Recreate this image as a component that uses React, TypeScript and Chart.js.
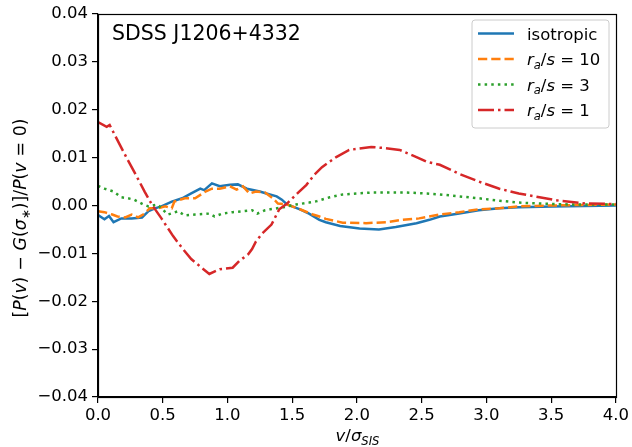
import React, { useEffect, useRef } from "react";
import { Chart, registerables } from "chart.js";

Chart.register(...registerables);

const isoV = [0, 0.05, 0.085, 0.12, 0.18, 0.26, 0.34, 0.39, 0.44, 0.49, 0.57, 0.65, 0.72, 0.79, 0.82, 0.88, 0.94, 1.02, 1.08, 1.15, 1.25, 1.3, 1.38, 1.42, 1.46, 1.56, 1.63, 1.71, 1.76, 1.87, 2.02, 2.17, 2.3, 2.46, 2.56, 2.64, 2.79, 2.94, 3.1, 3.25, 3.51, 4.0];
const isoY = [-0.002, -0.0029, -0.0022, -0.0035, -0.0027, -0.0027, -0.0025, -0.0012, -0.0006, -0.0002, 0.0008, 0.0015, 0.0025, 0.0035, 0.0032, 0.0046, 0.004, 0.0043, 0.0044, 0.0035, 0.0029, 0.0025, 0.0019, 0.0012, 0.0002, -0.0008, -0.0017, -0.003, -0.0035, -0.0043, -0.0048, -0.005, -0.0045, -0.0037, -0.003, -0.0023, -0.0017, -0.001, -0.0006, -0.0004, -0.0002, 0.0];

const ra10V = [0, 0.05, 0.11, 0.15, 0.21, 0.26, 0.31, 0.36, 0.4, 0.46, 0.52, 0.57, 0.59, 0.67, 0.75, 0.83, 0.88, 0.94, 1.02, 1.07, 1.12, 1.17, 1.22, 1.29, 1.35, 1.39, 1.46, 1.56, 1.66, 1.71, 1.76, 1.89, 2.07, 2.23, 2.35, 2.48, 2.64, 2.79, 2.94, 3.1, 3.25, 3.51, 4.0];
const ra10Y = [-0.0012, -0.0014, -0.0019, -0.0023, -0.0025, -0.0019, -0.0025, -0.0017, -0.0006, -0.0006, -0.0002, -0.0006, 0.0008, 0.0015, 0.0015, 0.0029, 0.0035, 0.0035, 0.004, 0.0033, 0.004, 0.0025, 0.0029, 0.0027, 0.0015, 0.0004, 0.0002, -0.0008, -0.0019, -0.0023, -0.0028, -0.0036, -0.0037, -0.0035, -0.003, -0.0027, -0.0019, -0.0014, -0.0008, -0.0006, -0.0002, 0.0, 0.0002];

const ra3V = [0, 0.05, 0.12, 0.18, 0.23, 0.28, 0.35, 0.39, 0.46, 0.54, 0.62, 0.67, 0.75, 0.86, 0.9, 0.96, 1.04, 1.12, 1.19, 1.23, 1.29, 1.33, 1.43, 1.53, 1.63, 1.69, 1.79, 1.89, 2.0, 2.12, 2.25, 2.38, 2.54, 2.64, 2.79, 2.94, 3.1, 3.25, 3.41, 3.64, 4.0];
const ra3Y = [0.0041, 0.0035, 0.0029, 0.0017, 0.0015, 0.0012, 0.0002, -0.0002, 0.0002, -0.0019, -0.0012, -0.0021, -0.0019, -0.0017, -0.0023, -0.0017, -0.0014, -0.0012, -0.001, -0.0017, -0.001, -0.0008, -0.0004, 0.0002, 0.0006, 0.0009, 0.0017, 0.0023, 0.0025, 0.0027, 0.0027, 0.0027, 0.0025, 0.0023, 0.0019, 0.0015, 0.001, 0.0006, 0.0004, 0.0002, 0.0002];

const ra1V = [0, 0.067, 0.09, 0.17, 0.23, 0.3, 0.36, 0.42, 0.49, 0.58, 0.65, 0.72, 0.8, 0.86, 0.94, 1.04, 1.09, 1.16, 1.19, 1.22, 1.27, 1.34, 1.4, 1.46, 1.54, 1.61, 1.67, 1.73, 1.84, 1.94, 2.11, 2.21, 2.33, 2.46, 2.54, 2.64, 2.79, 2.94, 3.1, 3.25, 3.41, 3.56, 3.77, 4.0];
const ra1Y = [0.0174, 0.0164, 0.0168, 0.0126, 0.0095, 0.006, 0.0029, 0.0, -0.0027, -0.0064, -0.0089, -0.0112, -0.013, -0.0143, -0.0133, -0.013, -0.0116, -0.0102, -0.0091, -0.0075, -0.0058, -0.004, -0.0008, 0.0004, 0.0025, 0.0043, 0.0064, 0.008, 0.0101, 0.0116, 0.0122, 0.012, 0.0116, 0.0101, 0.0091, 0.0085, 0.0066, 0.005, 0.0035, 0.0025, 0.0017, 0.001, 0.0004, 0.0003];

const seriesNames = ["isotropic", "r_a/s = 10", "r_a/s = 3", "r_a/s = 1"];
const seriesColors = ["#1f77b4", "#ff7f0e", "#2ca02c", "#d62728"];
const xTicks = [0, 0.5, 1, 1.5, 2, 2.5, 3, 3.5, 4];
const yTicks = [-0.04, -0.03, -0.02, -0.01, 0, 0.01, 0.02, 0.03, 0.04];
const titleText = "SDSS J1206+4332";

const LW = 2.5;
const dashes: number[][] = [
  [],
  [3.7 * LW, 1.6 * LW],
  [1 * LW, 1.65 * LW],
  [6.4 * LW, 1.6 * LW, 1 * LW, 1.6 * LW],
];

const FONT = "'DejaVu Sans'";
const FS = 16.5;

type Seg = { t: string; i?: boolean; sub?: boolean; gap?: number };

function segWidth(ctx: CanvasRenderingContext2D, s: Seg, size: number) {
  if (s.gap !== undefined) return s.gap * size;
  const fs = s.sub ? size * 0.7 : size;
  ctx.font = `${s.i ? "oblique " : ""}${fs}px ${FONT}`;
  return ctx.measureText(s.t).width;
}

function richWidth(ctx: CanvasRenderingContext2D, segs: Seg[], size: number) {
  let w = 0;
  for (const s of segs) w += segWidth(ctx, s, size);
  return w;
}

function drawRich(ctx: CanvasRenderingContext2D, segs: Seg[], x: number, y: number, size: number) {
  let cx = x;
  ctx.textAlign = "left";
  ctx.textBaseline = "alphabetic";
  for (const s of segs) {
    const w = segWidth(ctx, s, size);
    if (s.gap === undefined) {
      ctx.fillText(s.t, cx, y + (s.sub ? size * 0.22 : 0));
    }
    cx += w;
  }
}

function labelSegs(name: string): Seg[] {
  if (!name.startsWith("r_a")) return [{ t: name }];
  const rest = name.slice(5);
  return [{ t: "r", i: true }, { t: "a", i: true, sub: true }, { t: "/" }, { t: "s", i: true }, { t: rest }];
}

const ylabelSegs: Seg[] = [
  { t: "[" }, { t: "P", i: true }, { t: "(" }, { t: "v", i: true }, { t: ")" }, { gap: 0.34 }, { t: "−" }, { gap: 0.34 },
  { t: "G", i: true }, { t: "(" }, { t: "σ", i: true }, { t: "∗", sub: true }, { t: ")]/" },
  { t: "P", i: true }, { t: "(" }, { t: "v", i: true }, { gap: 0.34 }, { t: "=" }, { gap: 0.34 }, { t: "0)" },
];
const xlabelSegs: Seg[] = [{ t: "v", i: true }, { t: "/" }, { t: "σ", i: true }, { t: "SIS", i: true, sub: true }];

const decorPlugin = {
  id: "decor",
  afterDatasetsDraw(chart: any) {
    const ctx: CanvasRenderingContext2D = chart.ctx;
    const a = chart.chartArea;
    ctx.save();
    // frame
    ctx.strokeStyle = "#000";
    ctx.lineWidth = 1.2;
    ctx.setLineDash([]);
    ctx.strokeRect(Math.round(a.left) + 0.5, Math.round(a.top) + 0.5, Math.round(a.right - a.left), Math.round(a.bottom - a.top));
    // title
    ctx.fillStyle = "#000";
    ctx.font = `20.5px ${FONT}`;
    ctx.textAlign = "left";
    ctx.textBaseline = "alphabetic";
    ctx.fillText(titleText, 112, 40);
    // legend
    const bx = 472, by = 20, bw = 137, bh = 108;
    ctx.beginPath();
    const r = 3;
    ctx.moveTo(bx + r, by);
    ctx.lineTo(bx + bw - r, by);
    ctx.quadraticCurveTo(bx + bw, by, bx + bw, by + r);
    ctx.lineTo(bx + bw, by + bh - r);
    ctx.quadraticCurveTo(bx + bw, by + bh, bx + bw - r, by + bh);
    ctx.lineTo(bx + r, by + bh);
    ctx.quadraticCurveTo(bx, by + bh, bx, by + bh - r);
    ctx.lineTo(bx, by + r);
    ctx.quadraticCurveTo(bx, by, bx + r, by);
    ctx.closePath();
    ctx.fillStyle = "rgba(255,255,255,0.8)";
    ctx.fill();
    ctx.strokeStyle = "#cccccc";
    ctx.lineWidth = 1;
    ctx.stroke();
    const rows = [33.5, 59, 84.5, 110];
    seriesNames.forEach((n, k) => {
      const y = rows[k];
      ctx.beginPath();
      ctx.strokeStyle = seriesColors[k];
      ctx.lineWidth = LW;
      ctx.lineCap = "butt";
      ctx.setLineDash(dashes[k]);
      ctx.moveTo(478, y);
      ctx.lineTo(514, y);
      ctx.stroke();
      ctx.setLineDash([]);
      ctx.fillStyle = "#000";
      drawRich(ctx, labelSegs(n), 527, y + 6, FS);
    });
    // x label
    const xw = richWidth(ctx, xlabelSegs, FS);
    drawRich(ctx, xlabelSegs, 357.5 - xw / 2, 441, FS);
    // y label
    const YFS = 17.3;
    const yw = richWidth(ctx, ylabelSegs, YFS);
    ctx.translate(26, 218);
    ctx.rotate(-Math.PI / 2);
    drawRich(ctx, ylabelSegs, -yw / 2, 0, YFS);
    ctx.restore();
  },
};

function fmtY(v: number) {
  if (Math.abs(v) < 1e-9) return "0.00";
  const s = v.toFixed(2);
  return s.replace("-", "\u2212");
}

export default function App() {
  const ref = useRef<HTMLCanvasElement>(null);
  useEffect(() => {
    document.body.style.margin = "0";
    const canvas = ref.current!;
    const mk = (vs: number[], ys: number[]) => vs.map((v, i) => ({ x: v, y: ys[i] }));
    const allData = [mk(isoV, isoY), mk(ra10V, ra10Y), mk(ra3V, ra3Y), mk(ra1V, ra1Y)];
    const chart = new Chart(canvas, {
      type: "line",
      data: {
        datasets: allData.map((d, k) => ({
          label: seriesNames[k],
          data: d,
          borderColor: seriesColors[k],
          backgroundColor: seriesColors[k],
          borderWidth: LW,
          borderDash: dashes[k],
          borderCapStyle: "butt",
          pointRadius: 0,
          tension: 0,
          fill: false,
          order: 4 - k,
        })),
      },
      options: {
        animation: false,
        responsive: false,
        devicePixelRatio: 1,
        layout: { padding: { left: 0, right: 14, top: 11, bottom: 0 } },
        plugins: { legend: { display: false }, tooltip: { enabled: false } },
        scales: {
          x: {
            type: "linear",
            min: 0,
            max: 4,
            afterBuildTicks: (s: any) => { s.ticks = xTicks.map((v) => ({ value: v })); },
            afterFit: (s: any) => { s.height = 50; },
            ticks: {
              callback: (v: any) => Number(v).toFixed(1),
              font: { family: "DejaVu Sans", size: FS },
              color: "#000",
              padding: 3,
              maxRotation: 0,
              autoSkip: false,
            },
            grid: { display: true, drawOnChartArea: false, drawTicks: true, tickLength: 6, color: "#000", lineWidth: 1.2 },
            border: { display: true, color: "#000", width: 1.2 },
          },
          y: {
            type: "linear",
            min: -0.04,
            max: 0.04,
            afterBuildTicks: (s: any) => { s.ticks = yTicks.map((v) => ({ value: v })); },
            afterFit: (s: any) => { s.width = 98; },
            ticks: {
              callback: (v: any) => fmtY(Number(v)),
              font: { family: "DejaVu Sans", size: FS },
              color: "#000",
              padding: 4,
              autoSkip: false,
            },
            grid: { display: true, drawOnChartArea: false, drawTicks: true, tickLength: 6, color: "#000", lineWidth: 1.2 },
            border: { display: true, color: "#000", width: 1.2 },
          },
        },
      },
      plugins: [decorPlugin],
    } as any);
    return () => chart.destroy();
  }, []);
  return (
    <div style={{ position: "absolute", left: 0, top: 0 }}>
      <canvas ref={ref} width={632} height={447} style={{ display: "block", width: 632, height: 447 }} />
    </div>
  );
}
